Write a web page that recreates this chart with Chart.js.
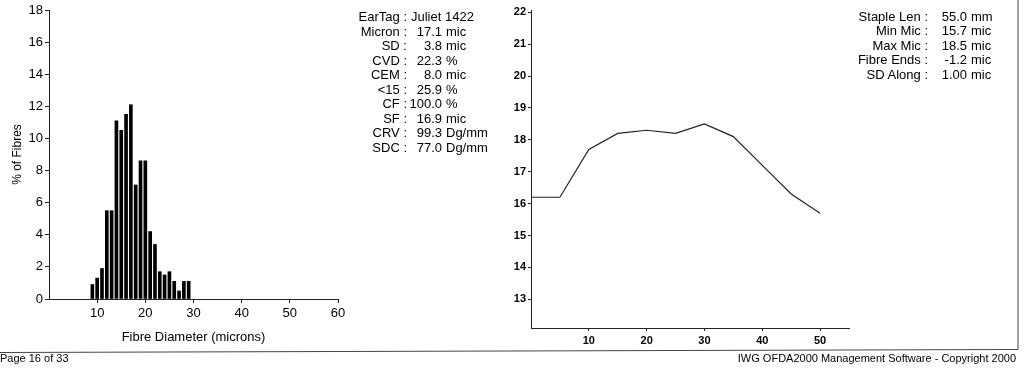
<!DOCTYPE html>
<html>
<head>
<meta charset="utf-8">
<script src="https://cdn.jsdelivr.net/npm/chart.js@4.4.1/dist/chart.umd.min.js"></script>
<style>
    body { margin: 0; background: #fff; width: 1024px; height: 375px; overflow: hidden; position: relative;
           font-family: "Liberation Sans", Arial, sans-serif; color: #000; }
    canvas { position: absolute; }
    #histChart { left: 0; top: 0; }
    #alongChart { left: 500px; top: 0; }
    .stats { position: absolute; font-size: 13px; }
    .row { position: relative; white-space: nowrap; }
    .row span { display: inline-block; }
    .lab { text-align: right; }
    .num { text-align: right; }
    .unit { margin-left: 4px; }
    .txt { margin-left: 4px; }
    .foot { position: absolute; font-size: 11px; white-space: nowrap; }
    svg { position: absolute; left: 0; top: 0; }
</style>
</head>
<body>
<canvas id="histChart" width="350" height="350"></canvas>
<canvas id="alongChart" width="360" height="350"></canvas>

<div class="stats" id="statsLeft" style="left:330px; top:10px; line-height:14.5px;"></div>
<div class="stats" id="statsRight" style="left:830px; top:9.5px; line-height:14.65px;"></div>

<svg width="1024" height="375">
    <polyline points="0,352.5 1018,349.5 1018,0" fill="none" stroke="#444" stroke-width="1"/>
</svg>
<div class="foot" style="left:0; top:352px;">Page 16 of 33</div>
<div class="foot" style="right:8px; top:352px;">IWG OFDA2000 Management Software - Copyright 2000</div>

<script>
// histogram data (fibre diameter distribution)
const diameters = [9, 10, 11, 12, 13, 14, 15, 16, 17, 18, 19, 20, 21, 22, 23, 24, 25, 26, 27, 28, 29];
const percentFibres = [0.9, 1.3, 1.9, 5.5, 5.5, 11.1, 10.5, 11.5, 12.1, 7.1, 8.6, 8.6, 4.2, 3.4, 1.7, 1.5, 1.7, 1.1, 0.5, 1.1, 1.1];

// micron profile along the staple
const staplePos = [0, 5, 10, 15, 20, 25, 30, 35, 40, 45, 50];
const micronAlong = [16.2, 16.2, 17.7, 18.2, 18.3, 18.2, 18.5, 18.1, 17.2, 16.3, 15.7];

// tick values
const histXTicks = [10, 20, 30, 40, 50, 60];
const histYTicks = [0, 2, 4, 6, 8, 10, 12, 14, 16, 18];
const alongXTicks = [10, 20, 30, 40, 50];
const alongYTicks = [13, 14, 15, 16, 17, 18, 19, 20, 21, 22];

// summary text blocks
const leftLabels = ['EarTag :', 'Micron :', 'SD :', 'CVD :', 'CEM :', '<15 :', 'CF :', 'SF :', 'CRV :', 'SDC :'];
const leftNumbers = ['', '17.1', '3.8', '22.3', '8.0', '25.9', '100.0', '16.9', '99.3', '77.0'];
const leftUnits = ['Juliet 1422', 'mic', 'mic', '%', 'mic', '%', '%', 'mic', 'Dg/mm', 'Dg/mm'];
const rightLabels = ['Staple Len :', 'Min Mic :', 'Max Mic :', 'Fibre Ends :', 'SD Along :'];
const rightNumbers = ['55.0', '15.7', '18.5', '-1.2', '1.00'];
const rightUnits = ['mm', 'mic', 'mic', 'mic', 'mic'];

const FONT = '"Liberation Sans", Arial, sans-serif';
const AXIS = '#222';

function fillStats(id, labels, numbers, units, labW, numW) {
    const box = document.getElementById(id);
    labels.forEach((lab, i) => {
        const row = document.createElement('div');
        row.className = 'row';
        if (numbers[i] === '') {
            row.innerHTML = `<span class="lab" style="width:${labW}px"></span><span class="txt"></span>`;
            row.children[1].textContent = units[i];
        } else {
            row.innerHTML = `<span class="lab" style="width:${labW}px"></span><span class="num" style="width:${numW}px"></span><span class="unit"></span>`;
            row.children[1].textContent = numbers[i];
            row.children[2].textContent = units[i];
        }
        row.children[0].textContent = lab;
        box.appendChild(row);
    });
}

fillStats('statsLeft', leftLabels, leftNumbers, leftUnits, 77, 35);
fillStats('statsRight', rightLabels, rightNumbers, rightUnits, 98, 39);

// keep only the listed tick values
function keepTicks(list) {
    return scale => { scale.ticks = list.map(v => ({ value: v })); };
}

function axisCommon(extra, tickLen) {
    return Object.assign({
        grid: { drawOnChartArea: false, drawTicks: true, tickLength: tickLen || 4, color: AXIS, offset: false },
        border: { display: true, color: AXIS, width: 1 }
    }, extra);
}

Chart.defaults.font.family = FONT;
Chart.defaults.color = '#000';

// left: histogram
new Chart(document.getElementById('histChart'), {
    type: 'bar',
    data: {
        datasets: [{
            data: diameters.map((d, i) => ({ x: d, y: percentFibres[i] })),
            backgroundColor: '#000',
            barThickness: 3
        }]
    },
    options: {
        responsive: false,
        animation: false,
        layout: { padding: { top: 10, right: 12, left: 0, bottom: 0 } },
        plugins: { legend: { display: false }, tooltip: { enabled: false } },
        scales: {
            x: axisCommon({
                type: 'linear', min: 0, max: 60, offset: false,
                afterBuildTicks: keepTicks(histXTicks),
                afterFit: s => { s.height = 51; },
                ticks: { font: { size: 13 }, padding: 3, maxRotation: 0 },
                title: { display: true, text: 'Fibre Diameter (microns)', font: { size: 13 }, padding: { top: 0, bottom: 5 } }
            }),
            y: axisCommon({
                min: 0, max: 18,
                afterBuildTicks: keepTicks(histYTicks),
                afterFit: s => { s.width = 49; },
                ticks: { font: { size: 13 }, padding: 2 },
                title: { display: true, text: '% of Fibres', font: { size: 12 }, padding: { top: 10, bottom: 0 } }
            })
        }
    }
});

// right: micron along staple
new Chart(document.getElementById('alongChart'), {
    type: 'line',
    data: {
        datasets: [{
            data: staplePos.map((p, i) => ({ x: p, y: micronAlong[i] })),
            borderColor: '#222',
            borderWidth: 1.2,
            pointRadius: 0,
            tension: 0
        }]
    },
    options: {
        responsive: false,
        animation: false,
        layout: { padding: { top: 10, right: 11, left: 0, bottom: 0 } },
        plugins: { legend: { display: false }, tooltip: { enabled: false } },
        scales: {
            x: axisCommon({
                type: 'linear', min: 0, max: 55,
                afterBuildTicks: keepTicks(alongXTicks),
                afterFit: s => { s.height = 22; },
                ticks: { font: { size: 11, weight: 'bold' }, padding: 3, maxRotation: 0 }
            }, 3),
            y: axisCommon({
                min: 12.1, max: 22.07,
                afterBuildTicks: keepTicks(alongYTicks),
                afterFit: s => { s.width = 31; },
                ticks: { font: { size: 11, weight: 'bold' }, padding: 2 }
            }, 3)
        }
    }
});
</script>
</body>
</html>
